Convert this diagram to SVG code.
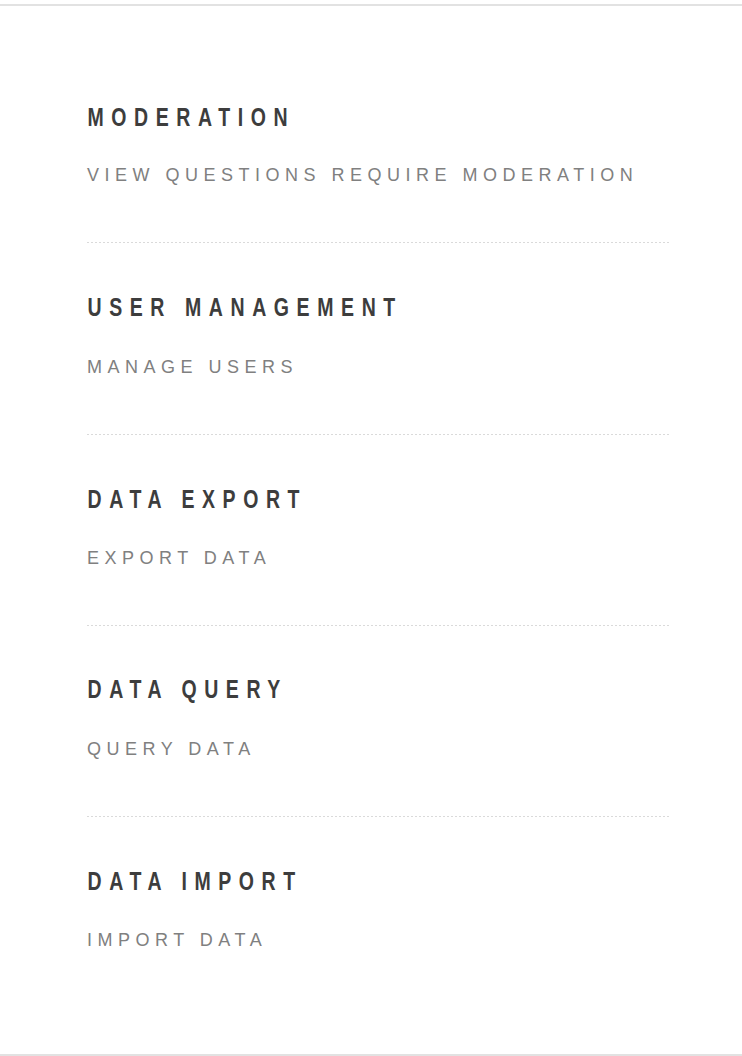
<svg xmlns="http://www.w3.org/2000/svg" width="742" height="1056" viewBox="0 0 742 1056">
<style>
.h{font-family:"Liberation Sans",Arial,sans-serif;font-weight:bold;font-size:19.5px;letter-spacing:7.6px;fill:#3d3d3d}
.s{font-family:"Liberation Sans",Arial,sans-serif;font-size:18px;letter-spacing:5.5px;fill:#808080}
.sep{stroke:#dadada;stroke-width:1;stroke-dasharray:2 2}
</style>
<rect width="742" height="1056" fill="#ffffff"/>
<rect x="0" y="4" width="742" height="2" fill="#e2e2e2"/>
<rect x="0" y="1054" width="742" height="2" fill="#e2e2e2"/>
<g id="moderation">
<text class="h" transform="translate(87.5,125.5) scale(1,1.28)">MODERATION</text>
<text class="s" x="87" y="181">VIEW QUESTIONS REQUIRE MODERATION</text>
</g>
<g id="user-management">
<text class="h" transform="translate(87.5,316) scale(1,1.28)">USER MANAGEMENT</text>
<text class="s" x="87" y="373">MANAGE USERS</text>
</g>
<g id="data-export">
<text class="h" transform="translate(87.5,507.5) scale(1,1.28)">DATA EXPORT</text>
<text class="s" x="87" y="564">EXPORT DATA</text>
</g>
<g id="data-query">
<text class="h" transform="translate(87.5,698) scale(1,1.28)">DATA QUERY</text>
<text class="s" x="87" y="755">QUERY DATA</text>
</g>
<g id="data-import">
<text class="h" transform="translate(87.5,889.5) scale(1,1.28)">DATA IMPORT</text>
<text class="s" x="87" y="946">IMPORT DATA</text>
</g>
<g id="separators">
<line class="sep" x1="87" y1="242.5" x2="670" y2="242.5"/>
<line class="sep" x1="87" y1="434.5" x2="670" y2="434.5"/>
<line class="sep" x1="87" y1="625.5" x2="670" y2="625.5"/>
<line class="sep" x1="87" y1="816.5" x2="670" y2="816.5"/>
</g>
</svg>
